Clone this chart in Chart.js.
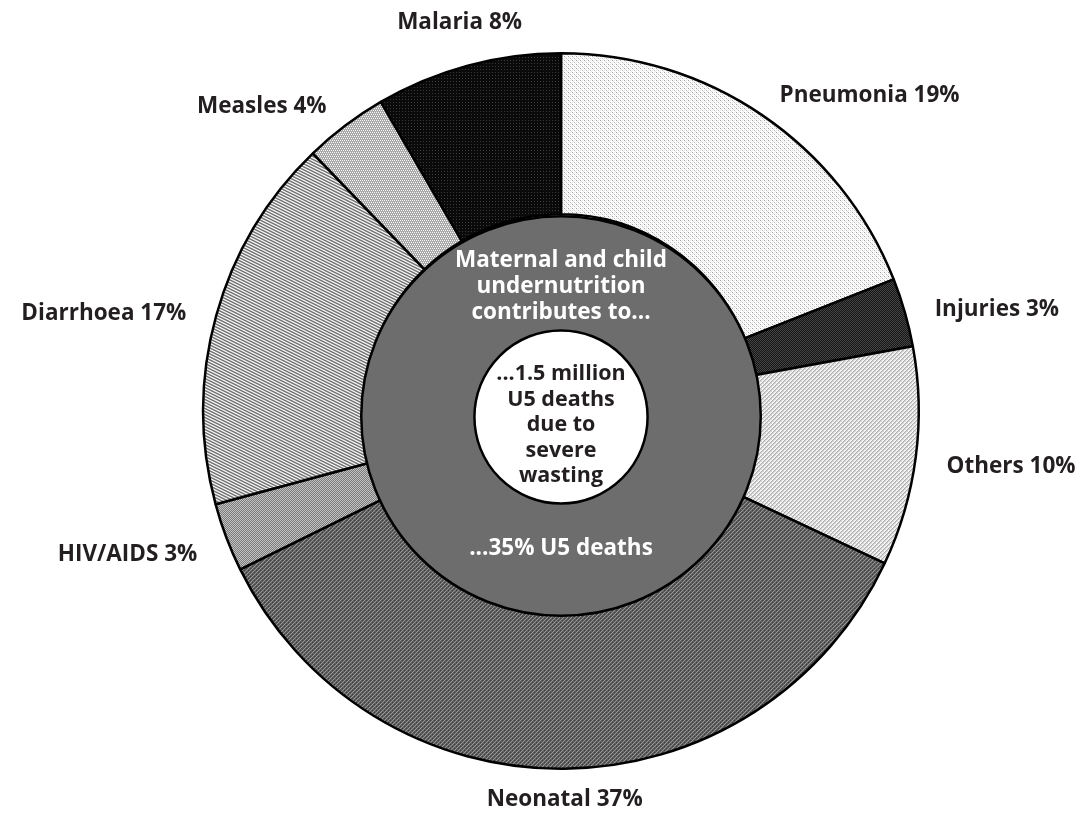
<!DOCTYPE html>
<html><head><meta charset="utf-8">
<script src="https://cdn.jsdelivr.net/npm/chart.js@4.4.0/dist/chart.umd.min.js"></script>
<style>html,body{margin:0;padding:0;background:#fff;}#wrap{width:1086px;height:835px;}</style>
</head><body><div id="wrap"><canvas id="c" width="1086" height="835"></canvas></div>
<script>
// ---- data ----
const categories = ['Pneumonia','Injuries','Others','Neonatal','HIV/AIDS','Diarrhoea','Measles','Malaria'];
const labelPercents = [19, 3, 10, 37, 3, 17, 4, 8];
const shares = [19, 3.1, 9.9, 35.7, 3.1, 17, 3.8, 8.4];
const centerTopText = ['Maternal and child', 'undernutrition', 'contributes to...'];
const centerInnerText = ['...1.5 million', 'U5 deaths', 'due to', 'severe', 'wasting'];
const centerBottomText = ['...35% U5 deaths'];

const FONT = '"Open Sans", "Noto Sans", sans-serif';

// ---- pixel patterns ----
function makePattern(w, h, fn) {
  const c = document.createElement('canvas');
  c.width = w; c.height = h;
  const g = c.getContext('2d');
  for (let y = 0; y < h; y++) for (let x = 0; x < w; x++) {
    g.fillStyle = fn(x, y);
    g.fillRect(x, y, 1, 1);
  }
  return document.getElementById('c').getContext('2d').createPattern(c, 'repeat');
}
const mod = (a, n) => ((a % n) + n) % n;
const fills = [
  // Pneumonia: stipple on white
  makePattern(4, 4, (x, y) => (x === 0 && y === 0) ? '#a0a0a0' : (x === 2 && y === 2) ? '#bdbdbd' : ((x + y) % 4 === 2 ? '#e6e6e6' : '#ffffff')),
  // Injuries: dark crosshatch
  makePattern(2, 2, (x, y) => (x + y) % 2 === 0 ? '#454545' : '#151515'),
  // Others: light diagonal zigzag
  makePattern(4, 4, (x, y) => { const k = mod(x + y, 4); return k === 0 ? '#adadad' : k === 1 ? '#d2d2d2' : (mod(x - y, 4) === 0 ? '#dcdcdc' : '#f4f4f4'); }),
  // Neonatal: medium grey texture
  makePattern(4, 4, (x, y) => mod(x + y, 4) === 0 ? '#979797' : mod(x - y, 4) === 2 ? '#3e3e3e' : '#5d5d5d'),
  // HIV/AIDS: grey checker
  makePattern(2, 2, (x, y) => (x + y) % 2 === 0 ? '#c2c2c2' : '#7c7c7c'),
  // Diarrhoea: shallow diagonal stripes
  makePattern(6, 3, (x, y) => { const k = mod(x - 2 * y, 6); return k < 2 ? '#777777' : (k === 2 || k === 5) ? '#acacac' : '#efefef'; }),
  // Measles: steep stripes
  makePattern(2, 4, (x, y) => { const k = mod(2 * x - y, 4); return k === 0 ? '#fafafa' : k === 1 ? '#b6b6b6' : '#a4a4a4'; }),
  // Malaria: black with faint dots
  makePattern(3, 3, (x, y) => (x === 0 && y === 0) ? '#3a3a3a' : '#0a0a0a')
];

// ---- overlay plugin: centre discs, centre text, outer labels ----
const overlay = {
  id: 'overlay',
  afterDatasetsDraw(chart) {
    const ctx = chart.ctx;
    const arcs = chart.getDatasetMeta(0).data;
    const a0 = arcs[0];
    const cx = a0.x, cy = a0.y, R = a0.outerRadius, rIn = a0.innerRadius;
    ctx.save();
    // grey disc
    const gy = cy + 5;
    ctx.beginPath(); ctx.arc(cx, gy, rIn + 3, 0, Math.PI * 2);
    ctx.fillStyle = '#6d6d6d'; ctx.fill();
    ctx.lineWidth = 2.5; ctx.strokeStyle = '#000'; ctx.stroke();
    // white disc
    const wr = rIn * 0.44;
    const wy = cy + 6;
    ctx.beginPath(); ctx.arc(cx, wy, wr, 0, Math.PI * 2);
    ctx.fillStyle = '#ffffff'; ctx.fill();
    ctx.lineWidth = 2.5; ctx.strokeStyle = '#000'; ctx.stroke();
    // centre texts
    ctx.textAlign = 'center'; ctx.textBaseline = 'middle';
    ctx.font = '700 22.5px ' + FONT;
    const lh = 26;
    ctx.fillStyle = '#ffffff';
    centerTopText.forEach((t, i) => ctx.fillText(t, cx, cy - 150 + i * lh));
    centerBottomText.forEach((t, i) => ctx.fillText(t, cx, cy + 138 + i * lh));
    ctx.font = '700 21.5px ' + FONT;
    ctx.fillStyle = '#231f20';
    const n = centerInnerText.length;
    centerInnerText.forEach((t, i) => ctx.fillText(t, cx, wy + 8 + (i - (n - 1) / 2) * 25.5));
    // outer labels
    ctx.font = '700 22.5px ' + FONT;
    ctx.fillStyle = '#231f20';
    arcs.forEach((arc, i) => {
      const mid = (arc.startAngle + arc.endAngle) / 2;
      const s = Math.cos(mid), c = Math.sin(mid); // s: horizontal, c: vertical (screen)
      const rr = R + 31;
      let x = cx + rr * s, y = cy + rr * c;
      let align = 'center';
      if (s > 0.3) align = 'left'; else if (s < -0.3) align = 'right';
      if (align === 'center') y += (c < 0 ? 14 * c : 0);
      else y += 6;
      ctx.textAlign = align;
      ctx.fillText(categories[i] + ' ' + labelPercents[i] + '%', x, y);
    });
    ctx.restore();
  }
};

new Chart(document.getElementById('c'), {
  type: 'doughnut',
  data: {
    labels: categories,
    datasets: [{
      data: shares,
      backgroundColor: fills,
      borderColor: '#000000',
      borderWidth: 2.5,
      hoverOffset: 0
    }]
  },
  options: {
    responsive: false,
    animation: false,
    cutout: '55%',
    rotation: 0,
    layout: { padding: { top: 52, bottom: 65, left: 202, right: 166 } },
    plugins: { legend: { display: false }, tooltip: { enabled: false } },
    events: []
  },
  plugins: [overlay]
});
</script>
</body></html>
